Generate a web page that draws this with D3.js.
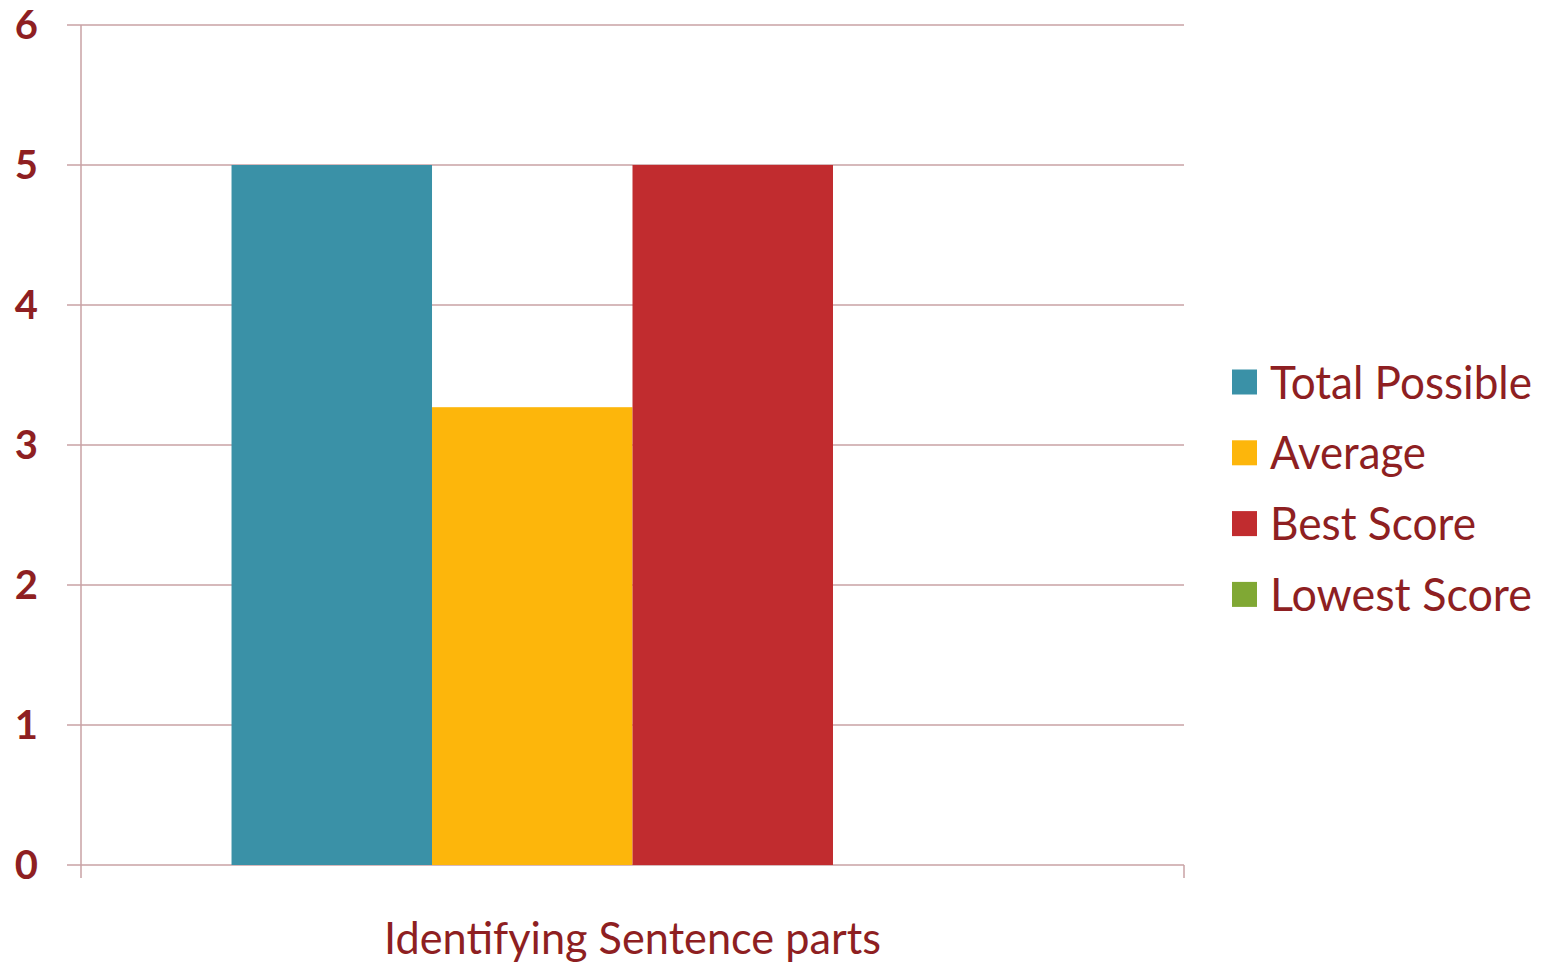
<!DOCTYPE html>
<html>
<head>
<meta charset="utf-8">
<script src="https://cdn.jsdelivr.net/npm/d3@7"></script>
<style>
  html, body { margin: 0; padding: 0; background: #fff; }
  svg text { font-family: Lato, "Open Sans", sans-serif; fill: #8E1F22; }
</style>
</head>
<body>
<div class="app"></div>
<script>
// chart data
var categories = ["Identifying Sentence parts"];
var seriesNames = ["Total Possible", "Average", "Best Score", "Lowest Score"];
var seriesValues = [5, 3.27, 5, 0];
var seriesColors = ["#3A91A7", "#FDB60B", "#C12C2F", "#80A834"];
var yTicks = [0, 1, 2, 3, 4, 5, 6];
var yTickLabels = ["0", "1", "2", "3", "4", "5", "6"];

var width = 1552, height = 965;
var plotLeft = 81, plotRight = 1184, plotTop = 25, plotBottom = 865;
var gridColor = "#C9A2A5";

var svg = d3.select(".app").append("svg").attr("width", width).attr("height", height);

var y = d3.scaleLinear().domain([0, 6]).range([plotBottom, plotTop]);
var x0 = d3.scaleBand().domain(categories).range([plotLeft, plotRight]).paddingInner(0).paddingOuter(0.1877);
var x1 = d3.scaleBand().domain(seriesNames).range([0, x0.bandwidth()]);

// gridlines
svg.append("g").selectAll("line").data(yTicks).enter().append("line")
  .attr("x1", plotLeft - 14).attr("x2", plotRight)
  .attr("y1", function (d) { return y(d); }).attr("y2", function (d) { return y(d); })
  .attr("stroke", gridColor).attr("stroke-width", 1.5);

// y axis line
svg.append("line").attr("x1", plotLeft).attr("x2", plotLeft).attr("y1", plotTop).attr("y2", plotBottom + 13)
  .attr("stroke", gridColor).attr("stroke-width", 1.5);
// category boundary tick
svg.append("line").attr("x1", plotRight).attr("x2", plotRight).attr("y1", plotBottom).attr("y2", plotBottom + 13)
  .attr("stroke", gridColor).attr("stroke-width", 1.5);

// y tick labels
svg.append("g").selectAll("text").data(yTicks).enter().append("text")
  .attr("x", 38).attr("y", function (d) { return y(d); })
  .attr("dy", "0.36em").attr("text-anchor", "end")
  .style("font-size", "40px").style("font-weight", "bold")
  .text(function (d, i) { return yTickLabels[i]; });

// bars
var groups = svg.append("g").selectAll("g").data(categories).enter().append("g")
  .attr("transform", function (d) { return "translate(" + x0(d) + ",0)"; });
groups.selectAll("rect").data(function () {
  return seriesNames.map(function (s, i) { return { name: s, value: seriesValues[i], color: seriesColors[i] }; });
}).enter().append("rect")
  .attr("x", function (d) { return x1(d.name); })
  .attr("width", x1.bandwidth())
  .attr("y", function (d) { return y(d.value); })
  .attr("height", function (d) { return plotBottom - y(d.value); })
  .attr("fill", function (d) { return d.color; });

// category label
svg.append("g").selectAll("text").data(categories).enter().append("text")
  .attr("x", function (d) { return x0(d) + x0.bandwidth() / 2; })
  .attr("y", 954)
  .attr("text-anchor", "middle")
  .style("font-size", "44px")
  .attr("textLength", 497).attr("lengthAdjust", "spacingAndGlyphs")
  .text(function (d) { return d; });

// legend
var legendW = [262, 156, 206, 262];
var legend = svg.append("g").selectAll("g").data(seriesNames).enter().append("g")
  .attr("transform", function (d, i) { return "translate(1232," + (382 + i * 70.8) + ")"; });
legend.append("rect").attr("x", 0).attr("y", -12.5).attr("width", 25).attr("height", 25)
  .attr("fill", function (d, i) { return seriesColors[i]; });
legend.append("text").attr("x", 38).attr("y", 0).attr("dy", "0.36em")
  .style("font-size", "46px")
  .attr("textLength", function (d, i) { return legendW[i]; }).attr("lengthAdjust", "spacingAndGlyphs")
  .text(function (d) { return d; });
</script>
</body>
</html>
